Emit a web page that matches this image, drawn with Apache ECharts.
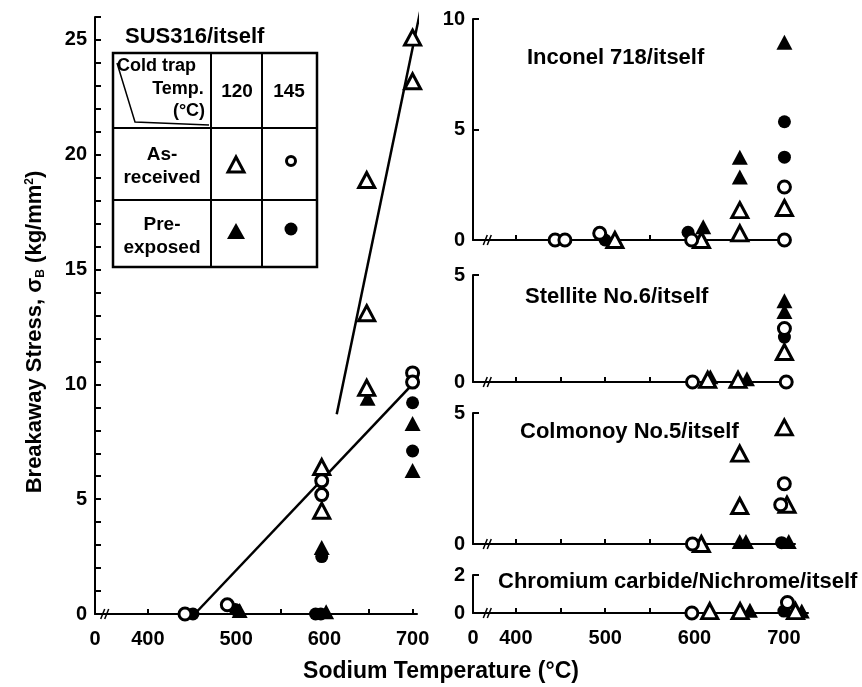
<!DOCTYPE html>
<html>
<head>
<meta charset="utf-8">
<title>Breakaway stress vs sodium temperature</title>
<script src="https://cdn.jsdelivr.net/npm/echarts@6/dist/echarts.min.js"></script>
<style>
  html, body { margin: 0; padding: 0; background: #fff; }
  #chart { width: 862px; height: 687px; }
</style>
</head>
<body>
<div id="chart"></div>
<script>
// temperature ticks (°C); the axis origin is labelled "0" (broken axis)
const tempLabels = [400, 500, 600, 700];
const tempTicks = [400, 450, 500, 550, 600, 650, 700];

// SUS316/itself  [temperature, stress]
const susAsRec120 = [[597, 6.4], [597, 4.5], [648, 18.9], [648, 13.1], [648, 9.85], [700, 25.1], [700, 23.2]];
const susAsRec145 = [[442, 0], [490, 0.4], [597, 5.8], [597, 5.2], [700, 10.5], [700, 10.1]];
const susPreExp120 = [[504, 0.15], [602, 0.1], [597, 2.9], [649, 9.4], [700, 8.3], [700, 6.25]];
const susPreExp145 = [[451, 0], [499, 0.2], [590, 0], [596, 0], [597, 2.5], [700, 9.2], [700, 7.1]];
const susFitLow = [[453, 0], [722, 10.9]];
const susFitHigh = [[614, 8.7], [710, 26.5]];

// Inconel 718/itself
const incAsRec120 = [[511, 0], [608, 0], [651, 0.3], [651, 1.35], [701, 1.45]];
const incAsRec145 = [[444, 0], [455, 0], [494, 0.3], [597, 0], [701, 0], [701, 2.4]];
const incPreExp120 = [[610, 0.6], [651, 2.85], [651, 3.75], [701, 8.95]];
const incPreExp145 = [[500, 0], [593, 0.35], [701, 3.75], [701, 5.35]];

// Stellite No.6/itself
const steAsRec120 = [[615, 0.1], [649, 0.1], [701, 1.4]];
const steAsRec145 = [[598, 0], [703, 0], [701, 2.5]];
const stePreExp120 = [[618, 0.25], [659, 0.15], [701, 3.3], [701, 3.8]];
const stePreExp145 = [[701, 2.1]];

// Colmonoy No.5/itself
const colAsRec120 = [[608, 0], [651, 1.45], [651, 3.45], [704, 1.5], [701, 4.45]];
const colAsRec145 = [[598, 0], [697, 1.5], [701, 2.3]];
const colPreExp120 = [[651, 0.1], [658, 0.1], [706, 0.1]];
const colPreExp145 = [[698, 0.05]];

// Chromium carbide/Nichrome/itself
const crcAsRec120 = [[617, 0.1], [651, 0.1], [713, 0.1]];
const crcAsRec145 = [[597, 0], [704, 0.55]];
const crcPreExp120 = [[662, 0.15], [720, 0.1]];
const crcPreExp145 = [[700, 0.1]];

const FONT = "'Liberation Sans', Arial, sans-serif";

const panels = [
  { title: 'SUS316/itself', tx: 120, ty: 21, grid: { left: 95, top: 17, width: 322, height: 597 },
    xMin: 340, xMax: 705, yMax: 26, yStep: 1, labelStep: 5, xLabels: true, breakAt: 351,
    sets: [susPreExp120, susPreExp145, susAsRec120, susAsRec145] },
  { title: 'Inconel 718/itself', tx: 522, ty: 42, grid: { left: 473, top: 19, width: 315, height: 221 },
    xMin: 352, xMax: 705, yMax: 10, yStep: 5, labelStep: 5, xLabels: false, breakAt: 368,
    sets: [incPreExp120, incPreExp145, incAsRec120, incAsRec145] },
  { title: 'Stellite No.6/itself', tx: 520, ty: 281, grid: { left: 473, top: 275, width: 315, height: 107 },
    xMin: 352, xMax: 705, yMax: 5, yStep: 5, labelStep: 5, xLabels: false, breakAt: 368,
    sets: [stePreExp120, stePreExp145, steAsRec120, steAsRec145] },
  { title: 'Colmonoy No.5/itself', tx: 515, ty: 416, grid: { left: 473, top: 413, width: 322, height: 131 },
    xMin: 352, xMax: 713, yMax: 5, yStep: 5, labelStep: 5, xLabels: false, breakAt: 368,
    sets: [colPreExp120, colPreExp145, colAsRec120, colAsRec145] },
  { title: 'Chromium carbide/Nichrome/itself', tx: 493, ty: 566, grid: { left: 473, top: 575, width: 335, height: 38 },
    xMin: 352, xMax: 727, yMax: 2, yStep: 2, labelStep: 2, xLabels: true, breakAt: 368,
    sets: [crcPreExp120, crcPreExp145, crcAsRec120, crcAsRec145] }
];

const black = '#000';
const axisLine = { show: true, lineStyle: { color: black, width: 2 } };

const grids = [], xAxes = [], yAxes = [], titles = [], series = [];

panels.forEach((p, i) => {
  grids.push(p.grid);
  titles.push({ text: p.title, left: p.tx, top: p.ty,
    textStyle: { fontFamily: FONT, fontSize: 22, fontWeight: 'bold', color: black } });
  xAxes.push({
    type: 'value', gridIndex: i, min: p.xMin, max: p.xMax,
    axisLine: axisLine, splitLine: { show: false },
    axisTick: { show: true, inside: true, length: 5, customValues: tempTicks, lineStyle: { color: black, width: 2 } },
    axisLabel: {
      show: p.xLabels, customValues: [p.xMin].concat(tempLabels), margin: 15,
      fontFamily: FONT, fontSize: 20, fontWeight: 'bold', color: black,
      formatter: v => (v === p.xMin ? '0' : String(v))
    }
  });
  yAxes.push({
    type: 'value', gridIndex: i, min: 0, max: p.yMax, interval: p.yStep,
    axisLine: axisLine, splitLine: { show: false },
    axisTick: { show: true, inside: true, length: 6, lineStyle: { color: black, width: 2 } },
    axisLabel: {
      margin: 8, fontFamily: FONT, fontSize: 20, fontWeight: 'bold', color: black,
      formatter: v => (v % p.labelStep === 0 ? String(v) : '')
    }
  });
  const kinds = [['triangle', true], ['circle', true], ['triangle', false], ['circle', false]];
  p.sets.forEach((data, k) => {
    const [shape, filled] = kinds[k];
    let size = shape === 'triangle' ? [16, 15] : (filled ? 13 : 12);
    series.push({
      type: 'scatter', xAxisIndex: i, yAxisIndex: i, data: data,
      symbol: shape, symbolSize: size,
      itemStyle: filled
        ? { color: black, opacity: 1 }
        : { color: '#fff', borderColor: black, borderWidth: 3, opacity: 1 },
      clip: false, silent: true, z: filled ? 3 : 4
    });
  });
});

[susFitLow, susFitHigh].forEach(line => {
  series.push({
    type: 'line', xAxisIndex: 0, yAxisIndex: 0, data: line, symbol: 'none',
    lineStyle: { color: black, width: 2.5 }, clip: false, silent: true, z: 2
  });
});

// legend table inside the SUS316 panel
const txt = (text, x, y, align, size) => ({
  type: 'text', x: x, y: y, z: 20,
  style: { text: text, fill: black, font: 'bold ' + (size || 19) + 'px ' + FONT, align: align || 'center', verticalAlign: 'middle' }
});
const tableGraphics = [
  { type: 'rect', z: 19, shape: { x: 113, y: 53, width: 204, height: 214 }, style: { fill: '#fff', stroke: black, lineWidth: 2.5 } },
  { type: 'line', z: 20, shape: { x1: 211, y1: 53, x2: 211, y2: 267 }, style: { stroke: black, lineWidth: 2 } },
  { type: 'line', z: 20, shape: { x1: 262, y1: 53, x2: 262, y2: 267 }, style: { stroke: black, lineWidth: 2 } },
  { type: 'line', z: 20, shape: { x1: 113, y1: 128, x2: 317, y2: 128 }, style: { stroke: black, lineWidth: 2 } },
  { type: 'line', z: 20, shape: { x1: 113, y1: 200, x2: 317, y2: 200 }, style: { stroke: black, lineWidth: 2 } },
  { type: 'polyline', z: 20, shape: { points: [[117, 63], [135, 122], [209, 125]] }, style: { stroke: black, lineWidth: 1.5, fill: null } },
  txt('Cold trap', 117, 66, 'left', 18),
  txt('Temp.', 178, 89, 'center', 18),
  txt('(°C)', 189, 111, 'center', 18),
  txt('120', 237, 92),
  txt('145', 289, 92),
  txt('As-', 162, 155),
  txt('received', 162, 178),
  txt('Pre-', 162, 225),
  txt('exposed', 162, 248),
  { type: 'polygon', z: 20, shape: { points: [[236, 157], [244, 172], [228, 172]] }, style: { fill: '#fff', stroke: black, lineWidth: 3 } },
  { type: 'circle', z: 20, shape: { cx: 291, cy: 161, r: 4.5 }, style: { fill: '#fff', stroke: black, lineWidth: 3 } },
  { type: 'polygon', z: 20, shape: { points: [[236, 223], [245, 239], [227, 239]] }, style: { fill: black } },
  { type: 'circle', z: 20, shape: { cx: 291, cy: 229, r: 6.5 }, style: { fill: black } }
];

const axisTitles = [
  { type: 'text', x: 441, y: 672, z: 20,
    style: { text: 'Sodium Temperature (°C)', fill: black, font: 'bold 23px ' + FONT, align: 'center', verticalAlign: 'middle' } },
  { type: 'text', x: 35, y: 332, rotation: Math.PI / 2, z: 20,
    style: { text: 'Breakaway Stress, σ{s|B} (kg/mm{p|2})', fill: black, font: 'bold 22px ' + FONT,
      align: 'center', verticalAlign: 'middle',
      rich: { s: { font: 'bold 12px ' + FONT, fill: black, padding: [11, 0, 0, 0] },
              p: { font: 'bold 12px ' + FONT, fill: black, padding: [0, 0, 10, 0] } } } }
];

const chart = echarts.init(document.getElementById('chart'));
chart.setOption({
  backgroundColor: '#fff',
  animation: false,
  title: titles,
  grid: grids,
  xAxis: xAxes,
  yAxis: yAxes,
  series: series,
  graphic: tableGraphics.concat(axisTitles)
});

// axis break marks, placed through the axis scales
const breaks = panels.map((p, i) => {
  const [bx, by] = chart.convertToPixel({ xAxisIndex: i, yAxisIndex: i }, [p.breakAt, 0]);
  return [
    { type: 'line', z: 20, shape: { x1: bx - 4, y1: by + 5, x2: bx, y2: by - 5 }, style: { stroke: black, lineWidth: 1.5 } },
    { type: 'line', z: 20, shape: { x1: bx, y1: by + 5, x2: bx + 4, y2: by - 5 }, style: { stroke: black, lineWidth: 1.5 } }
  ];
}).flat();
chart.setOption({ graphic: tableGraphics.concat(axisTitles, breaks) });
</script>
</body>
</html>
